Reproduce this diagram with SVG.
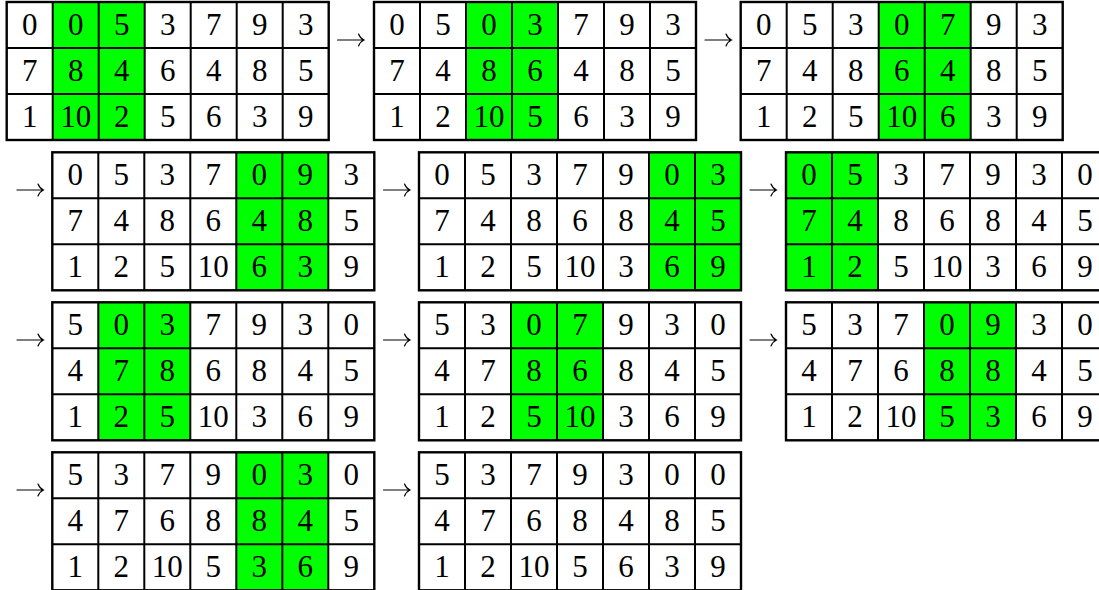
<svg xmlns="http://www.w3.org/2000/svg" xmlns:xlink="http://www.w3.org/1999/xlink" width="1099" height="590" viewBox="0 0 1099 590">
<style>
text{font-family:"Liberation Serif","Times New Roman",serif;font-size:31px;fill:#000;text-anchor:middle}
.g{fill:#00ff00}
.in{fill:none;stroke:#000;stroke-width:2}
.out{fill:none;stroke:#000;stroke-width:2.4}
.arr{fill:none;stroke:#000;stroke-width:1.2;stroke-linecap:round}
</style>
<defs>
<g id="lines">
<path class="in" d="M46,0V138M92,0V138M138,0V138M184,0V138M230,0V138M276,0V138M0,46H322M0,92H322"/>
<rect class="out" x="0" y="0" width="322" height="138"/>
</g>
<path id="arrow" class="arr" d="M0,0H26M21,-6Q22.8,-1.6 26.4,0Q22.8,1.6 21,6"/>
</defs>
<rect width="1099" height="590" fill="#fff"/>

<g id="connectors">
<use xlink:href="#arrow" x="337.5" y="40"/>
<use xlink:href="#arrow" x="705" y="40"/>
<use xlink:href="#arrow" x="17" y="190"/>
<use xlink:href="#arrow" x="383.5" y="190"/>
<use xlink:href="#arrow" x="750" y="190"/>
<use xlink:href="#arrow" x="17" y="340"/>
<use xlink:href="#arrow" x="383.5" y="340"/>
<use xlink:href="#arrow" x="750" y="340"/>
<use xlink:href="#arrow" x="17" y="490"/>
<use xlink:href="#arrow" x="383.5" y="490"/>
</g>

<g id="grid1" transform="translate(6.7,2)">
<rect class="g" x="46" y="0" width="92" height="138"/>
<g transform="translate(0,33)"><text x="23">0</text><text x="69">0</text><text x="115">5</text><text x="161">3</text><text x="207">7</text><text x="253">9</text><text x="299">3</text></g>
<g transform="translate(0,79)"><text x="23">7</text><text x="69">8</text><text x="115">4</text><text x="161">6</text><text x="207">4</text><text x="253">8</text><text x="299">5</text></g>
<g transform="translate(0,124.5)"><text x="23">1</text><text x="69">10</text><text x="115">2</text><text x="161">5</text><text x="207">6</text><text x="253">3</text><text x="299">9</text></g>
<use xlink:href="#lines"/>
</g>

<g id="grid2" transform="translate(374,2)">
<rect class="g" x="92" y="0" width="92" height="138"/>
<g transform="translate(0,33)"><text x="23">0</text><text x="69">5</text><text x="115">0</text><text x="161">3</text><text x="207">7</text><text x="253">9</text><text x="299">3</text></g>
<g transform="translate(0,79)"><text x="23">7</text><text x="69">4</text><text x="115">8</text><text x="161">6</text><text x="207">4</text><text x="253">8</text><text x="299">5</text></g>
<g transform="translate(0,124.5)"><text x="23">1</text><text x="69">2</text><text x="115">10</text><text x="161">5</text><text x="207">6</text><text x="253">3</text><text x="299">9</text></g>
<use xlink:href="#lines"/>
</g>

<g id="grid3" transform="translate(740.7,2)">
<rect class="g" x="138" y="0" width="92" height="138"/>
<g transform="translate(0,33)"><text x="23">0</text><text x="69">5</text><text x="115">3</text><text x="161">0</text><text x="207">7</text><text x="253">9</text><text x="299">3</text></g>
<g transform="translate(0,79)"><text x="23">7</text><text x="69">4</text><text x="115">8</text><text x="161">6</text><text x="207">4</text><text x="253">8</text><text x="299">5</text></g>
<g transform="translate(0,124.5)"><text x="23">1</text><text x="69">2</text><text x="115">5</text><text x="161">10</text><text x="207">6</text><text x="253">3</text><text x="299">9</text></g>
<use xlink:href="#lines"/>
</g>

<g id="grid4" transform="translate(52.3,152.3)">
<rect class="g" x="184" y="0" width="92" height="138"/>
<g transform="translate(0,33)"><text x="23">0</text><text x="69">5</text><text x="115">3</text><text x="161">7</text><text x="207">0</text><text x="253">9</text><text x="299">3</text></g>
<g transform="translate(0,79)"><text x="23">7</text><text x="69">4</text><text x="115">8</text><text x="161">6</text><text x="207">4</text><text x="253">8</text><text x="299">5</text></g>
<g transform="translate(0,124.5)"><text x="23">1</text><text x="69">2</text><text x="115">5</text><text x="161">10</text><text x="207">6</text><text x="253">3</text><text x="299">9</text></g>
<use xlink:href="#lines"/>
</g>

<g id="grid5" transform="translate(419,152.3)">
<rect class="g" x="230" y="0" width="92" height="138"/>
<g transform="translate(0,33)"><text x="23">0</text><text x="69">5</text><text x="115">3</text><text x="161">7</text><text x="207">9</text><text x="253">0</text><text x="299">3</text></g>
<g transform="translate(0,79)"><text x="23">7</text><text x="69">4</text><text x="115">8</text><text x="161">6</text><text x="207">8</text><text x="253">4</text><text x="299">5</text></g>
<g transform="translate(0,124.5)"><text x="23">1</text><text x="69">2</text><text x="115">5</text><text x="161">10</text><text x="207">3</text><text x="253">6</text><text x="299">9</text></g>
<use xlink:href="#lines"/>
</g>

<g id="grid6" transform="translate(786,152.3)">
<rect class="g" x="0" y="0" width="92" height="138"/>
<g transform="translate(0,33)"><text x="23">0</text><text x="69">5</text><text x="115">3</text><text x="161">7</text><text x="207">9</text><text x="253">3</text><text x="299">0</text></g>
<g transform="translate(0,79)"><text x="23">7</text><text x="69">4</text><text x="115">8</text><text x="161">6</text><text x="207">8</text><text x="253">4</text><text x="299">5</text></g>
<g transform="translate(0,124.5)"><text x="23">1</text><text x="69">2</text><text x="115">5</text><text x="161">10</text><text x="207">3</text><text x="253">6</text><text x="299">9</text></g>
<use xlink:href="#lines"/>
</g>

<g id="grid7" transform="translate(52.3,302.3)">
<rect class="g" x="46" y="0" width="92" height="138"/>
<g transform="translate(0,33)"><text x="23">5</text><text x="69">0</text><text x="115">3</text><text x="161">7</text><text x="207">9</text><text x="253">3</text><text x="299">0</text></g>
<g transform="translate(0,79)"><text x="23">4</text><text x="69">7</text><text x="115">8</text><text x="161">6</text><text x="207">8</text><text x="253">4</text><text x="299">5</text></g>
<g transform="translate(0,124.5)"><text x="23">1</text><text x="69">2</text><text x="115">5</text><text x="161">10</text><text x="207">3</text><text x="253">6</text><text x="299">9</text></g>
<use xlink:href="#lines"/>
</g>

<g id="grid8" transform="translate(419,302.3)">
<rect class="g" x="92" y="0" width="92" height="138"/>
<g transform="translate(0,33)"><text x="23">5</text><text x="69">3</text><text x="115">0</text><text x="161">7</text><text x="207">9</text><text x="253">3</text><text x="299">0</text></g>
<g transform="translate(0,79)"><text x="23">4</text><text x="69">7</text><text x="115">8</text><text x="161">6</text><text x="207">8</text><text x="253">4</text><text x="299">5</text></g>
<g transform="translate(0,124.5)"><text x="23">1</text><text x="69">2</text><text x="115">5</text><text x="161">10</text><text x="207">3</text><text x="253">6</text><text x="299">9</text></g>
<use xlink:href="#lines"/>
</g>

<g id="grid9" transform="translate(786,302.3)">
<rect class="g" x="138" y="0" width="92" height="138"/>
<g transform="translate(0,33)"><text x="23">5</text><text x="69">3</text><text x="115">7</text><text x="161">0</text><text x="207">9</text><text x="253">3</text><text x="299">0</text></g>
<g transform="translate(0,79)"><text x="23">4</text><text x="69">7</text><text x="115">6</text><text x="161">8</text><text x="207">8</text><text x="253">4</text><text x="299">5</text></g>
<g transform="translate(0,124.5)"><text x="23">1</text><text x="69">2</text><text x="115">10</text><text x="161">5</text><text x="207">3</text><text x="253">6</text><text x="299">9</text></g>
<use xlink:href="#lines"/>
</g>

<g id="grid10" transform="translate(52.3,452.3)">
<rect class="g" x="184" y="0" width="92" height="138"/>
<g transform="translate(0,33)"><text x="23">5</text><text x="69">3</text><text x="115">7</text><text x="161">9</text><text x="207">0</text><text x="253">3</text><text x="299">0</text></g>
<g transform="translate(0,79)"><text x="23">4</text><text x="69">7</text><text x="115">6</text><text x="161">8</text><text x="207">8</text><text x="253">4</text><text x="299">5</text></g>
<g transform="translate(0,124.5)"><text x="23">1</text><text x="69">2</text><text x="115">10</text><text x="161">5</text><text x="207">3</text><text x="253">6</text><text x="299">9</text></g>
<use xlink:href="#lines"/>
</g>

<g id="grid11" transform="translate(419,452.3)">
<g transform="translate(0,33)"><text x="23">5</text><text x="69">3</text><text x="115">7</text><text x="161">9</text><text x="207">3</text><text x="253">0</text><text x="299">0</text></g>
<g transform="translate(0,79)"><text x="23">4</text><text x="69">7</text><text x="115">6</text><text x="161">8</text><text x="207">4</text><text x="253">8</text><text x="299">5</text></g>
<g transform="translate(0,124.5)"><text x="23">1</text><text x="69">2</text><text x="115">10</text><text x="161">5</text><text x="207">6</text><text x="253">3</text><text x="299">9</text></g>
<use xlink:href="#lines"/>
</g>
</svg>
